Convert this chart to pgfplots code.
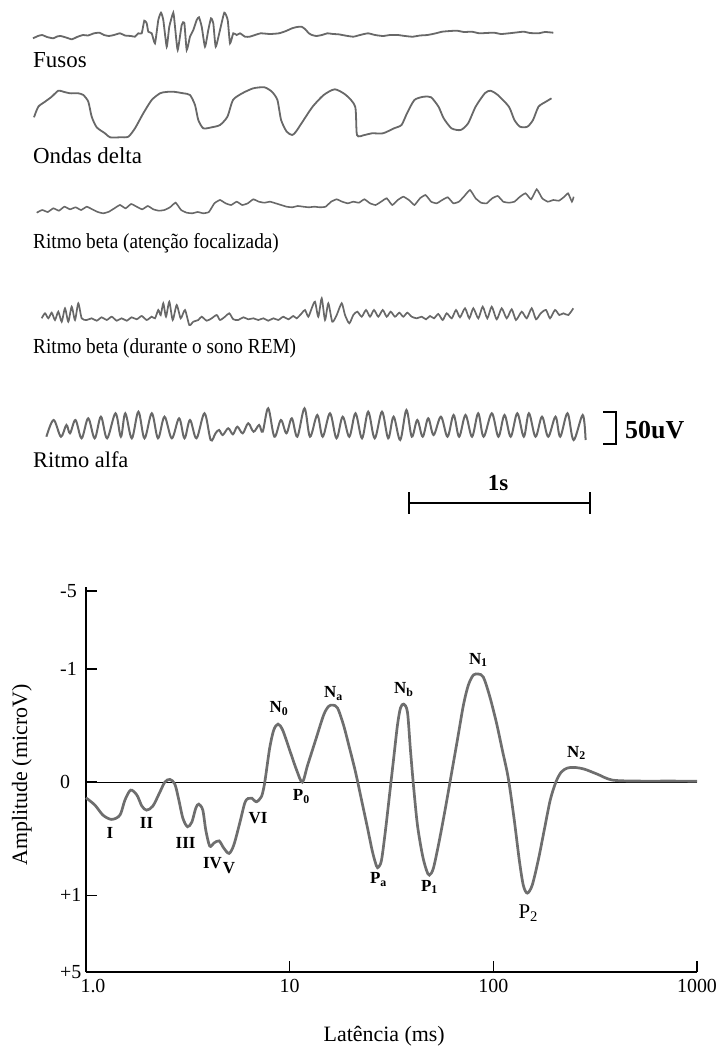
\documentclass[border=0pt]{standalone}
\usepackage{pgfplots}
\pgfplotsset{compat=1.18}
\usepackage{fontspec}
\setmainfont{Liberation Serif}
\newfontfamily\condfont[FakeStretch=0.9]{Liberation Serif}
\definecolor{trace}{HTML}{686868}
\definecolor{curve}{HTML}{6E6E6E}
\begin{document}
\begin{tikzpicture}
\path[use as bounding box] (0,0) rectangle (718bp,1051bp);
% ---------------- EEG panel (pixel coordinates) ----------------
\begin{axis}[at={(0,0)}, anchor=south west, scale only axis,
  width=718bp, height=1051bp, xmin=0, xmax=718, ymin=0, ymax=1051,
  y dir=reverse, hide axis, clip=false]
% Fusos
\addplot[trace, line width=1.8bp, smooth, tension=0.3] coordinates {
(33,38.3)(38,36)(42.2,35)(47,37)(53.3,38.3)(57,36.5)(60.7,36)(66,37.5)(71.9,39.3)(77,37)(83,35)(88,35.5)(94,33.3)(99.6,32.7)(104,35)(108.9,36)(114,35)(120,33.3)(125,35.5)(131,36)(135,36.7)(138.3,33.3)(141.7,33.3)(144.3,20.7)(146.7,23.3)(148.3,31.7)(151.7,33.3)(155,43.3)(158.3,20)(161,12.7)(163.3,20)(166.7,46.7)(169.3,26.7)(173.3,12.7)(175,26.7)(177.7,50)(181.7,25)(184.3,22.7)(186.7,50)(190,36.7)(193.3,30)(196.7,20)(199,17.3)(201.7,26.7)(205,46.7)(208.3,30)(211,18.3)(213.3,23.3)(215.7,46.7)(220,30)(224.3,12.7)(227.7,20)(230,43.3)(233.3,33.3)(236.7,35)(240,33.3)(245,36.7)(249.6,36.7)(255,35)(260.7,33.3)(270,34)(279,33.3)(286,31)(292,28.3)(297,27)(301.5,26.7)(305,29)(308.9,33.3)(312,35)(316.3,36)(322,35)(327.4,33.3)(333,34)(338.5,34.3)(345,35.5)(353.3,36.7)(360,35)(368,33.3)(375,35)(383,36)(390,35)(397.8,35)(405,36)(412.6,36.7)(420,35.5)(427.4,35)(435,33.5)(442.2,31.7)(450,31)(457,30.7)(464,32)(471.9,31.7)(479.3,33.3)(486,33)(494,32.7)(501,34)(508.9,33.3)(516,32.5)(523.7,31.7)(530,33)(538.5,33.3)(545,32)(553.3,32.7)};
% Ondas delta
\addplot[trace, line width=1.8bp, smooth, tension=0.4] coordinates {
(34,117.3)(38.3,106.7)(45,101.7)(51.7,96.7)(58.3,90.7)(63.3,91.7)(70,93.3)(78.3,93.3)(83.3,95)(88.3,101.7)(91.7,116.7)(96.7,127.3)(105,133.3)(110,137.3)(120,137.3)(128.3,136.7)(135,128.3)(143.3,113.3)(151.7,100)(160,93.3)(166,92)(173.3,91.7)(183.3,93.3)(190,95)(195,105)(198.3,120)(203.3,128.3)(211.7,127.3)(220,125)(227.4,116.7)(233,100)(242.2,93.3)(253.3,88.3)(264.4,87.3)(271.9,91.7)(277.4,100)(281.1,120)(286.7,131.7)(292.2,135)(295.9,131.7)(301.5,123.3)(312.6,106.7)(323.7,95)(334.8,89.3)(345.9,95)(355.2,106.7)(357,135)(364.4,135)(371.9,133.3)(383,133.3)(394,128.3)(401.5,125)(407,113.3)(414.4,100)(423.7,96.7)(431.1,97.3)(438.5,106.7)(443.7,118.3)(451.5,128.3)(460.7,130)(468.1,123.3)(475.6,106.7)(484.8,93.3)(490.4,90.7)(497.8,95)(508.9,106.7)(514.4,120)(520,126.7)(527.4,126.7)(533,120)(538.5,106.7)(545.9,101.7)(551.5,98.3)};
% Ritmo beta (atencao focalizada)
\addplot[trace, line width=1.6bp, smooth, tension=0.25] coordinates {
(36.7,212.7)(42.2,210)(47.8,212)(53.3,208.3)(58.9,210.7)(64.4,206.7)(70,209.3)(75.6,207.3)(81.1,210)(86.7,206.7)(92.2,209.3)(97.8,212)(103.3,213.3)(108.9,211.7)(114.4,208.3)(120,205)(125.6,208.3)(131.1,204)(136.7,206.7)(142.2,209.3)(147.8,206)(153.3,209.3)(158.9,210.7)(164.4,210)(170,207.3)(175.6,202.7)(181.1,210)(186.7,212.7)(192.2,213.3)(197.8,212)(203.3,213.3)(208.9,212)(214.4,203.3)(220,200)(225.6,203.3)(231.1,205)(236.7,201.7)(242.2,205)(247.8,203.3)(253.3,199.3)(258.9,201.7)(264.4,202.7)(270,201.7)(275.6,203.3)(281.1,205)(286.7,206.7)(292.2,207.3)(297.8,206)(303.3,206.7)(308.9,207.3)(314.4,206.7)(320,207.3)(325.6,206.7)(331.1,201.7)(336.7,199.3)(342.2,201.7)(347.8,203.3)(353.3,201.7)(358.9,202.7)(364.4,199.3)(370,203.3)(375.6,205)(381.1,201.7)(386.7,198.3)(392.2,205)(397.8,200)(403.3,196.7)(408.9,200)(414.4,205)(420,198.3)(425.6,195)(431.1,201.7)(436.7,203.3)(442.2,200)(447.8,197.3)(453.3,203.3)(458.9,201.7)(464.4,196)(470,190)(475.6,198.3)(481.1,202.7)(486.7,203.3)(492.2,198.3)(497.8,196)(503.3,201.7)(508.9,202.7)(514.4,201.7)(520,196.7)(525.6,193.3)(531.1,199.3)(536.7,189.3)(542.2,198.3)(547.8,201.7)(553.3,200)(558.9,200.7)(564.4,196.7)(568.1,193.3)(571.9,201.7)(573.7,196.7)};
% Ritmo beta (sono REM)
\addplot[trace, line width=1.7bp, smooth, tension=0.4] coordinates {
(41.7,318.3)(45,313.3)(48.3,318.3)(51.7,312.7)(55,320)(58.3,311.7)(61.7,321.7)(65,308.3)(68.3,321.7)(71.7,306.7)(75,320)(78.3,303.3)(81.7,318.3)(86.7,320)(91.7,318.3)(96.7,320.7)(101.7,317.3)(106.7,320)(111.7,316.7)(116.7,320.7)(121.7,318.3)(126.7,320.7)(131.7,317.3)(136.7,319.3)(141.7,316)(146.7,320)(151.7,316.7)(155,318.3)(158.3,310)(160.7,315)(163.3,303.3)(166,316.7)(169.3,301.7)(172.7,320)(176.7,305)(180.7,318.3)(185,310)(189.3,325)(193.3,321.7)(198.3,320)(201.7,316.7)(206.7,320.7)(211.7,318.3)(216.7,315)(220,320)(225,316.7)(229.3,313.3)(233.3,319.3)(238.3,320)(243.3,317.3)(248.3,319.3)(253.3,318.3)(258.3,320)(263.3,318.3)(268.3,320.7)(273.3,318.3)(278.3,320)(283.3,316.7)(288.3,319.3)(293.3,316)(296.7,318.3)(301.7,313.3)(305,310)(308.3,316.7)(311.7,308.3)(315,301.7)(318.3,316.7)(321.7,298.3)(325,320)(328.3,303.3)(332.3,321.7)(336.7,315)(341.7,303.3)(345,315)(349.3,323.3)(353.3,315)(357.3,311.7)(361.7,316.7)(366,310)(370,316.7)(374,310)(378.3,316.7)(382.7,310)(386.7,316.7)(390.7,311.7)(395,316.7)(399.3,312.7)(403.3,316.7)(407.3,312.7)(411.7,316.7)(416.7,318.3)(421.7,316.7)(426,319.3)(430,316)(434,318.3)(438.3,314)(442.7,320)(446.7,313.3)(451.7,318.3)(456,310)(460,317.3)(465,308.3)(469.3,318.3)(473.3,308.3)(478.3,318.3)(482.7,306.7)(487.3,318.3)(491.7,306.7)(496.7,319.3)(501.7,308.3)(506.7,318.3)(511.7,309.3)(516,320)(521.7,311.7)(526.7,318.3)(531.7,308.3)(536,319.3)(540.7,313.3)(546,310)(550,318.3)(555,310)(559.3,315)(563.3,313.3)(568.3,315)(573.3,308.3)};
% Ritmo alfa
\addplot[trace, line width=2bp, smooth, tension=0.55] coordinates {
(46.4,436.7)(53.6,420)(60.9,436.7)(66.4,425)(70,433.3)(75.5,420)(81.6,438.3)(88.2,418.3)(94.7,438.3)(100.9,416.7)(107.1,438.3)(115.5,413.3)(120.9,436.7)(125.3,413.3)(131.8,438.3)(138.4,411.7)(144.5,438.3)(151.8,413.3)(158,438.3)(164.5,416.7)(171.8,438.3)(179.1,418.3)(184.5,438.3)(190,420)(196.5,438.3)(204.5,413.3)(210.7,440)(215.5,433.3)(219.1,430)(222.7,435)(228.2,428.3)(232.9,434.3)(237.3,426.7)(242.7,433.3)(248.2,423.3)(253.6,431.7)(259.1,425)(262.7,431.7)(268.2,408.3)(274.4,436.7)(280.9,420)(286.4,433.3)(291.8,418.3)(297.3,436.7)(304.5,408.3)(310,436.7)(317.3,415)(322.7,436.7)(330,413.3)(336.5,438.3)(342.7,416.7)(349.3,436.7)(355.5,413.3)(362,438.3)(368.2,411.7)(374.7,438.3)(382,411.7)(388.2,438.3)(393.6,416.7)(400.2,440)(406.4,410)(411.8,436.7)(417.3,420)(422.7,436.7)(428.2,418.3)(433.6,435)(440.9,416.7)(447.5,436.7)(453.6,415)(459.1,436.7)(465.5,415)(472,436.7)(478.2,413.3)(483.6,436.7)(491.8,413.3)(498.4,436.7)(504.5,415)(510.7,436.7)(517.3,413.3)(523.8,436.7)(528.9,413.3)(535.5,436.7)(542,416.7)(548.2,436.7)(555.5,416.7)(560.2,436.7)(567.5,413.3)(573.6,440)(582.7,415)(585.6,440)};
% scale bars
\addplot[black, line width=2.2bp] coordinates {(603,412)(616,412)(616,444)(603,444)};
\addplot[black, line width=2.6bp] coordinates {(409,503)(590,503)};
\addplot[black, line width=2.2bp] coordinates {(409,492)(409,514)};
\addplot[black, line width=2.2bp] coordinates {(590,492)(590,514)};
% labels
\node[anchor=base west, inner sep=0pt, font=\fontsize{23}{26}\selectfont] at (axis cs:33,67.7) {Fusos};
\node[anchor=base west, inner sep=0pt, font=\fontsize{23}{26}\selectfont] at (axis cs:33,163) {Ondas delta};
\node[anchor=base west, inner sep=0pt, font=\condfont\fontsize{21.5}{24}\selectfont] at (axis cs:33,248) {Ritmo beta (atenção focalizada)};
\node[anchor=base west, inner sep=0pt, font=\condfont\fontsize{21.5}{24}\selectfont] at (axis cs:33,353) {Ritmo beta (durante o sono REM)};
\node[anchor=base west, inner sep=0pt, font=\fontsize{22.5}{26}\selectfont] at (axis cs:33,467) {Ritmo alfa};
\node[anchor=base west, inner sep=0pt, font=\bfseries\fontsize{26}{30}\selectfont] at (axis cs:625,438) {50uV};
\node[anchor=base, inner sep=0pt, font=\bfseries\fontsize{23}{26}\selectfont] at (axis cs:498,490) {1s};
\end{axis}
% ---------------- Evoked potential panel ----------------
\begin{axis}[at={(86bp,79bp)}, anchor=south west, scale only axis,
  width=611bp, height=385bp,
  xmode=log, xmin=1, xmax=1000, ymin=-1.68, ymax=1.726,
  axis lines*=left, clip=false,
  x axis line style={line width=2.4bp},
  y axis line style={line width=1.8bp},
  xtick={1,10,100,1000}, xticklabels={{\hspace{14bp}1.0},10,100,1000},
  ytick={-1.68,-1,0,1,1.69}, yticklabels={+5,+1,0,-1,-5},
  xminorticks=false, yminorticks=false,
  tick align=inside, major tick length=11bp,
  tick style={black, line width=1.2bp},
  ticklabel style={font=\fontsize{20}{24}\selectfont},
  xticklabel style={yshift=-4bp},
  yticklabel style={anchor=west, inner sep=0pt, xshift=-26bp},
  /pgf/number format/assume math mode=true,
  xlabel={Latência (ms)}, ylabel={Amplitude (microV)},
  label style={font=\fontsize{22}{26}\selectfont},
  xlabel style={at={(axis description cs:0.488,0)}, anchor=base, yshift=-69bp},
  ylabel style={at={(axis description cs:-0.105,0.512)}, anchor=center, rotate=0},
]
\addplot[black, line width=1.1bp] coordinates {(1,0) (1000,0)};
\addplot[curve, line width=2.7bp, smooth, tension=0.5] coordinates {
(1.0,-0.139)(1.107,-0.204)(1.211,-0.292)(1.336,-0.330)(1.468,-0.292)(1.553,-0.159)(1.657,-0.071)(1.778,-0.115)(1.881,-0.212)(1.984,-0.248)(2.130,-0.212)(2.306,-0.088)(2.439,0)(2.58,0.024)(2.731,-0.018)(2.857,-0.159)(2.989,-0.319)(3.15,-0.395)(3.308,-0.354)(3.461,-0.230)(3.58,-0.195)(3.746,-0.248)(3.875,-0.425)(4.05,-0.566)(4.242,-0.540)(4.50,-0.52)(4.748,-0.584)(5.04,-0.631)(5.315,-0.558)(5.686,-0.363)(6.018,-0.186)(6.25,-0.145)(6.513,-0.142)(6.87,-0.174)(7.26,-0.130)(7.458,-0.053)(7.626,0.053)(7.98,0.301)(8.35,0.460)(8.77,0.513)(9.24,0.460)(10,0.283)(10.82,0.106)(11.54,0)(12.25,0.150)(13.41,0.372)(14.68,0.593)(15.53,0.670)(16.3,0.681)(17.19,0.655)(18.39,0.504)(19.68,0.301)(21.06,0.088)(22.54,-0.159)(24.12,-0.407)(25.52,-0.619)(26.70,-0.743)(27.3,-0.752)(28.25,-0.690)(29.55,-0.425)(30.92,-0.115)(32.34,0.195)(33.83,0.504)(35.0,0.655)(36.3,0.690)(37.88,0.619)(39.19,0.283)(40.53,-0.027)(42.41,-0.381)(44.87,-0.646)(46.95,-0.779)(48.5,-0.823)(50.8,-0.761)(54.36,-0.513)(58.17,-0.230)(62.25,0.071)(66.6,0.372)(71.3,0.681)(75.4,0.858)(79.8,0.947)(84.4,0.956)(89.3,0.929)(95.6,0.770)(103.4,0.531)(110.7,0.283)(118.4,0.035)(126.7,-0.336)(134.1,-0.690)(140.3,-0.912)(146.8,-0.982)(155.2,-0.912)(166.2,-0.690)(177.8,-0.425)(190.3,-0.159)(202.8,0)(215.4,0.088)(230.6,0.124)(249.5,0.130)(279.3,0.115)(323.4,0.071)(384,0.018)(519.6,0.009)(729,0.009)(1000,0.008)};
\tikzset{pk/.style={font=\bfseries\fontsize{17}{19}\selectfont, inner sep=0pt}}
\node[pk] at (axis cs:1.311,-0.451) {I};
\node[pk] at (axis cs:1.984,-0.365) {II};
\node[pk] at (axis cs:3.082,-0.542) {III};
\node[pk] at (axis cs:4.18,-0.719) {IV};
\node[pk] at (axis cs:5.04,-0.758) {V};
\node[pk] at (axis cs:6.99,-0.321) {VI};
\node[pk] at (axis cs:8.86,0.652) {N\textsubscript{0}};
\node[pk] at (axis cs:11.41,-0.130) {P\textsubscript{0}};
\node[pk] at (axis cs:16.43,0.785) {N\textsubscript{a}};
\node[pk] at (axis cs:27.3,-0.861) {P\textsubscript{a}};
\node[pk] at (axis cs:36.3,0.820) {N\textsubscript{b}};
\node[pk] at (axis cs:48.6,-0.929) {P\textsubscript{1}};
\node[pk] at (axis cs:84.4,1.080) {N\textsubscript{1}};
\node[pk] at (axis cs:255.9,0.259) {N\textsubscript{2}};
\node[font=\fontsize{21}{24}\selectfont, inner sep=0pt] at (axis cs:148.4,-1.16) {P\textsubscript{2}};
\end{axis}
\end{tikzpicture}
\end{document}
